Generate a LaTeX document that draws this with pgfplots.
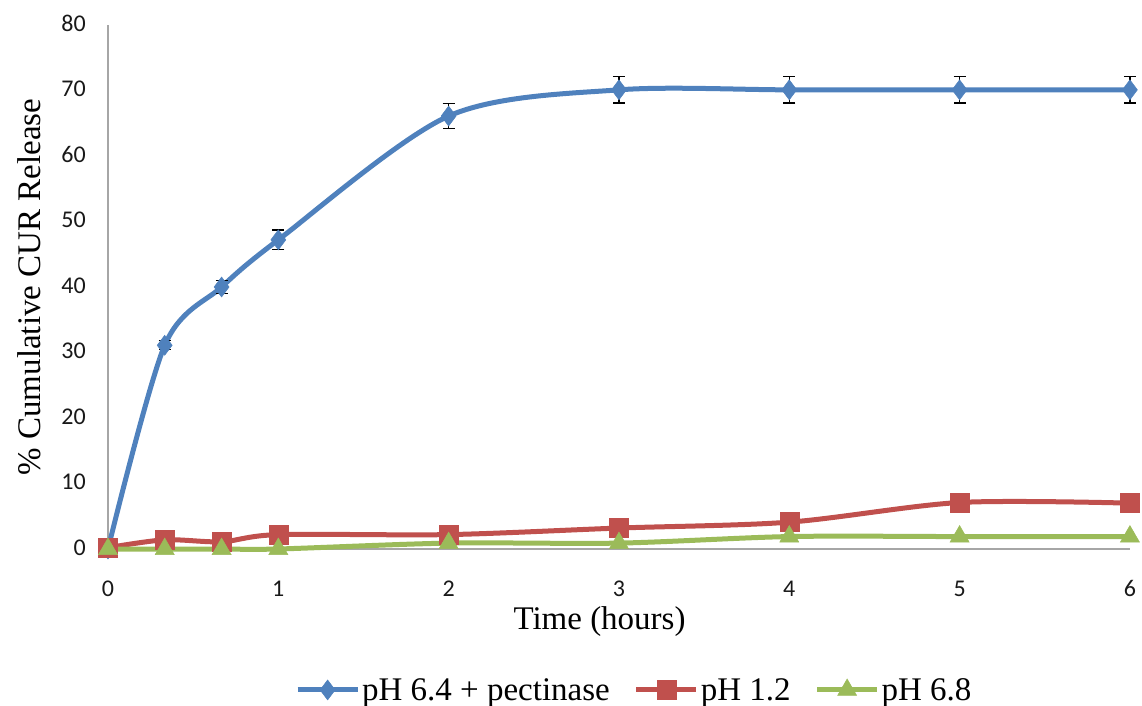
\documentclass[border=0pt]{standalone}
\usepackage{fontspec}
\setmainfont{Liberation Serif}
\newfontfamily\calibri{Carlito}
\usepackage{pgfplots}
\pgfplotsset{compat=1.18}
\definecolor{cblue}{HTML}{4F81BD}
\definecolor{cred}{HTML}{C0504D}
\definecolor{cgreen}{HTML}{9BBB59}
\definecolor{axgray}{HTML}{A6A6A6}
\begin{document}
\begin{tikzpicture}
\path[use as bounding box] (-108pt,-157pt) rectangle (1034pt,549pt);
\begin{axis}[
  at={(0pt,0pt)}, anchor=origin,
  scale only axis, width=1022pt, height=524pt,
  xmin=0, xmax=6, ymin=0, ymax=80,
  axis x line=bottom, axis y line=left,
  axis line style={-, draw=axgray, line width=1.3pt},
  major tick length=0pt,
  xtick={0,1,2,3,4,5,6},
  ytick={0,10,20,30,40,50,60,70,80},
  /pgf/number format/assume math mode=true,
  ticklabel style={font=\calibri\fontsize{24}{27}\selectfont, text=black!90},
  xticklabel style={anchor=base, yshift=-47pt, inner sep=0pt},
  yticklabel style={anchor=mid east, xshift=-22pt, yshift=-4pt, inner sep=0pt},
  xlabel={Time (hours)},
  ylabel={\% Cumulative CUR Release},
  every axis x label/.style={at={(axis description cs:0.481,-0.139)}, anchor=center, font=\fontsize{33}{36}\selectfont},
  every axis y label/.style={at={(axis description cs:-0.077,0.5)}, rotate=90, anchor=center, font=\fontsize{33}{36}\selectfont},
  clip=false,
  legend columns=3,
  legend style={at={(axis description cs:0.515,-0.269)}, anchor=center, draw=none, fill=none,
    font=\fontsize{33}{36}\selectfont, inner sep=0pt,
    /tikz/every even column/.append style={column sep=22pt}},
  legend image code/.code={\draw[mark repeat=2,mark phase=2] plot coordinates {(0pt,0pt) (30pt,0pt) (60pt,0pt)};},
]
\addplot[cblue, line width=5pt, smooth, tension=0.5, mark=diamond*, mark size=10pt,
  mark options={line width=0.5pt},
  error bars/.cd, y dir=both, y explicit,
  error bar style={black, line width=1.2pt},
  error mark options={rotate=90, mark size=6pt, black, line width=1.2pt}]
  coordinates {
  (0,0) +- (0,0)
  (0.333,31.1) +- (0,0.7)
  (0.667,40.0) +- (0,1.0)
  (1,47.2) +- (0,1.5)
  (2,66.1) +- (0,1.9)
  (3,70.1) +- (0,2.0)
  (4,70.1) +- (0,2.0)
  (5,70.1) +- (0,2.0)
  (6,70.1) +- (0,2.0)
  };
\addlegendentry{pH 6.4 + pectinase}
\addplot[cred, line width=5pt, smooth, tension=0.5, mark=square*, mark size=9.5pt, mark options={line width=0.5pt}]
  coordinates {
  (0,0.2) (0.333,1.4) (0.667,1.1) (1,2.2) (2,2.2) (3,3.2) (4,4.1) (5,7.1) (6,7.0)
  };
\addlegendentry{pH 1.2}
\addplot[cgreen, line width=5pt, smooth, tension=0.5, mark=triangle*, mark size=11pt, mark options={line width=0.5pt}]
  coordinates {
  (0,0) (0.333,0) (0.667,0) (1,0) (2,0.9) (3,0.9) (4,1.9) (5,1.9) (6,1.9)
  };
\addlegendentry{pH 6.8}
\end{axis}
\end{tikzpicture}
\end{document}
